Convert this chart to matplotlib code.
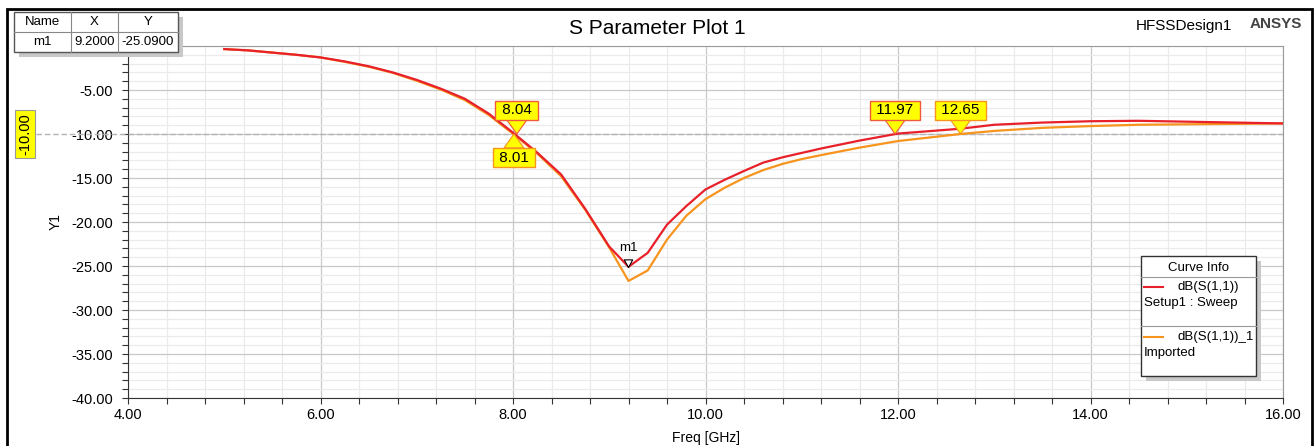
import matplotlib.pyplot as plt
from matplotlib.patches import Rectangle
from matplotlib.lines import Line2D
from matplotlib.ticker import MultipleLocator, FormatStrFormatter

plt.rcParams["font.family"] = ["Liberation Sans", "DejaVu Sans"]

# ------------------------------------------------------------------
# data
# ------------------------------------------------------------------
FREQ_SIM = [5.0, 5.25, 5.5, 5.75, 6.0, 6.25, 6.5, 6.75, 7.0, 7.25, 7.5, 7.75,
            8.0, 8.25, 8.5, 8.75, 9.0, 9.2, 9.4, 9.6, 9.8, 10.0, 10.2, 10.4,
            10.6, 10.8, 11.0, 11.2, 11.6, 12.0, 12.65, 13.0, 13.5, 14.0, 14.5,
            15.0, 15.5, 16.0]
S11_SIM = [-0.35, -0.5, -0.75, -1.0, -1.3, -1.75, -2.3, -3.0, -3.85, -4.85,
           -6.0, -7.7, -9.85, -12.1, -14.6, -18.5, -22.8, -25.09, -23.5,
           -20.3, -18.2, -16.3, -15.2, -14.2, -13.25, -12.65, -12.15, -11.65,
           -10.75, -9.95, -9.4, -8.95, -8.7, -8.55, -8.5, -8.6, -8.7, -8.8]

FREQ_MEAS = [5.0, 5.25, 5.5, 5.75, 6.0, 6.25, 6.5, 6.75, 7.0, 7.25, 7.5, 7.75,
             8.0, 8.25, 8.5, 8.75, 9.0, 9.2, 9.4, 9.6, 9.8, 10.0, 10.2, 10.4,
             10.6, 10.8, 11.0, 11.2, 11.6, 12.0, 12.65, 13.0, 13.5, 14.0, 14.5,
             15.0, 15.5, 16.0]
S11_MEAS = [-0.35, -0.5, -0.75, -1.0, -1.3, -1.8, -2.35, -3.05, -3.95, -4.95,
            -6.15, -7.85, -9.97, -12.2, -14.8, -18.6, -22.9, -26.7, -25.5,
            -22.0, -19.3, -17.4, -16.1, -15.0, -14.1, -13.4, -12.85, -12.4,
            -11.55, -10.8, -10.0, -9.65, -9.3, -9.1, -8.95, -8.9, -8.85, -8.8]

M1 = (9.2, -25.09)
CROSS_SIM = [8.04, 11.97]
CROSS_MEAS = [8.01, 12.65]
REF_LEVEL = -10.0

RED = "#e8202a"
ORANGE = "#f7941d"
YELLOW = "#ffff00"

W, H = 1316, 446


def fx(px):
    return px / W


def fy(py):
    return 1 - py / H


fig = plt.figure(figsize=(13.16, 4.46), dpi=100)
ax = fig.add_axes([fx(128), fy(398), fx(1283) - fx(128), fy(46) - fy(398)])

# outer frame
fig.patches.append(Rectangle((fx(7), fy(452)), fx(1312) - fx(7), fy(9) - fy(452),
                             transform=fig.transFigure, fill=False,
                             edgecolor="black", linewidth=2))

ax.set_xlim(4, 16)
ax.set_ylim(-40, 0)
ax.xaxis.set_major_locator(MultipleLocator(2))
ax.xaxis.set_minor_locator(MultipleLocator(0.4))
ax.yaxis.set_major_locator(MultipleLocator(5))
ax.yaxis.set_minor_locator(MultipleLocator(1))
ax.xaxis.set_major_formatter(FormatStrFormatter("%.2f"))
ax.yaxis.set_major_formatter(FormatStrFormatter("%.2f"))
ax.set_yticks([-40, -35, -30, -25, -20, -15, -10, -5])
ax.grid(which="major", color="#c8c8c8", linewidth=0.9)
ax.grid(which="minor", color="#ebebeb", linewidth=0.9)
ax.set_axisbelow(True)
ax.tick_params(which="both", direction="out", length=4, width=0.8,
               labelsize=10.5, color="#333333")
ax.tick_params(axis="y", pad=7)
for side in ("top", "right"):
    ax.spines[side].set_color("#999999")
for side in ("left", "bottom"):
    ax.spines[side].set_color("#333333")

ax.set_xlabel("Freq [GHz]", fontsize=10, labelpad=6)
ax.set_ylabel("Y1", fontsize=10, labelpad=6)

# -10 dB reference line (extends left to the yellow label)
ax.axhline(REF_LEVEL, color="#b4b4b4", linestyle=(0, (4, 2)), linewidth=1)
fig.add_artist(Line2D([fx(36), fx(128)], [fy(134), fy(134)],
                      transform=fig.transFigure, color="#b4b4b4",
                      linestyle=(0, (4, 2)), linewidth=1))
fig.text(fx(25), fy(134), "-10.00", rotation=90, ha="center", va="center",
         fontsize=10.5,
         bbox=dict(boxstyle="square,pad=0.2", fc=YELLOW, ec="#999999", lw=0.8))

# curves
ax.plot(FREQ_MEAS, S11_MEAS, color=ORANGE, linewidth=1.6, zorder=3)
ax.plot(FREQ_SIM, S11_SIM, color=RED, linewidth=1.6, zorder=4)


# crossing labels
def flag(x, text, edge, up):
    dy = -12 if up else 12
    ax.annotate(" " + text + " ", xy=(x, REF_LEVEL), xytext=(0, dy),
                textcoords="offset points", ha="center",
                va="top" if up else "bottom", fontsize=11, zorder=6,
                bbox=dict(boxstyle="square,pad=0.15", fc=YELLOW, ec=edge, lw=1),
                arrowprops=dict(arrowstyle="wedge,tail_width=1.3,shrink_factor=0.5",
                                fc=YELLOW, ec=edge, lw=0.8,
                                shrinkA=0, shrinkB=0))


flag(CROSS_SIM[0], "8.04", "#f05a3a", False)
flag(CROSS_MEAS[0], "8.01", "#f7941d", True)
flag(CROSS_SIM[1], "11.97", "#f05a3a", False)
flag(CROSS_MEAS[1], "12.65", "#f7941d", False)

# m1 marker
ax.plot([M1[0]], [M1[1]], marker=[(0, 0), (-0.55, 1), (0.55, 1), (0, 0)],
        markersize=11, mfc="white", mec="black", mew=0.8, zorder=7)
ax.annotate("m1", xy=M1, xytext=(0, 9), textcoords="offset points",
            ha="center", va="bottom", fontsize=9.5, zorder=7)

# title and header texts
fig.text(fx(657), fy(28), "S Parameter Plot 1", ha="center", va="center",
         fontsize=15)
fig.text(fx(1232), fy(26), "HFSSDesign1", ha="right", va="center", fontsize=11)
fig.text(fx(1302), fy(24), "ANSYS", ha="right", va="center", fontsize=11,
         fontweight="bold", color="#444444")

# marker table (top left)
cols = [14, 71, 118, 178]
rows = [12, 32, 52]
fig.patches.append(Rectangle((fx(cols[0] + 5), fy(rows[2] + 5)),
                             fx(cols[-1]) - fx(cols[0]), fy(rows[0]) - fy(rows[2]),
                             transform=fig.transFigure, fc="#c8c8c8", ec="none",
                             zorder=5))
fig.patches.append(Rectangle((fx(cols[0]), fy(rows[2])),
                             fx(cols[-1]) - fx(cols[0]), fy(rows[0]) - fy(rows[2]),
                             transform=fig.transFigure, fc="white", ec="#555555",
                             lw=1, zorder=6))
for c in cols[1:-1]:
    fig.add_artist(Line2D([fx(c), fx(c)], [fy(rows[0]), fy(rows[2])],
                          transform=fig.transFigure, color="#888888", lw=0.8,
                          zorder=7))
fig.add_artist(Line2D([fx(cols[0]), fx(cols[-1])], [fy(rows[1]), fy(rows[1])],
                      transform=fig.transFigure, color="#888888", lw=0.8, zorder=7))
table_rows = [["Name", "X", "Y"], ["m1", f"{M1[0]:.4f}", f"{M1[1]:.4f}"]]
for r, cells in enumerate(table_rows):
    for c, txt in enumerate(cells):
        xc = (cols[c] + cols[c + 1]) / 2
        yc = (rows[r] + rows[r + 1]) / 2
        fig.text(fx(xc), fy(yc), txt, ha="center", va="center", fontsize=9.5,
                 zorder=8)

# curve info box
bx0, bx1, by0, by1 = 1141, 1256, 256, 376
fig.patches.append(Rectangle((fx(bx0 + 5), fy(by1 + 5)), fx(bx1) - fx(bx0),
                             fy(by0) - fy(by1), transform=fig.transFigure,
                             fc="#c8c8c8", ec="none", zorder=5))
fig.patches.append(Rectangle((fx(bx0), fy(by1)), fx(bx1) - fx(bx0),
                             fy(by0) - fy(by1), transform=fig.transFigure,
                             fc="white", ec="#333333", lw=1, zorder=6))
fig.text(fx((bx0 + bx1) / 2), fy(268), "Curve Info", ha="center", va="center",
         fontsize=9.5, zorder=8)
for yy in (277, 326):
    fig.add_artist(Line2D([fx(bx0), fx(bx1)], [fy(yy), fy(yy)],
                          transform=fig.transFigure, color="#999999", lw=0.8,
                          zorder=7))
for yy, col, name, src in ((287, RED, "dB(S(1,1))", "Setup1 : Sweep"),
                           (337, ORANGE, "dB(S(1,1))_1", "Imported")):
    fig.add_artist(Line2D([fx(1144), fx(1163)], [fy(yy), fy(yy)],
                          transform=fig.transFigure, color=col, lw=1.5,
                          zorder=7))
    fig.text(fx(1178), fy(yy), name, ha="left", va="center", fontsize=9.5,
             zorder=8)
    fig.text(fx(1144), fy(yy + 16), src, ha="left", va="center", fontsize=9.5,
             zorder=8)

fig.savefig("out.png", dpi=100, facecolor="white")
